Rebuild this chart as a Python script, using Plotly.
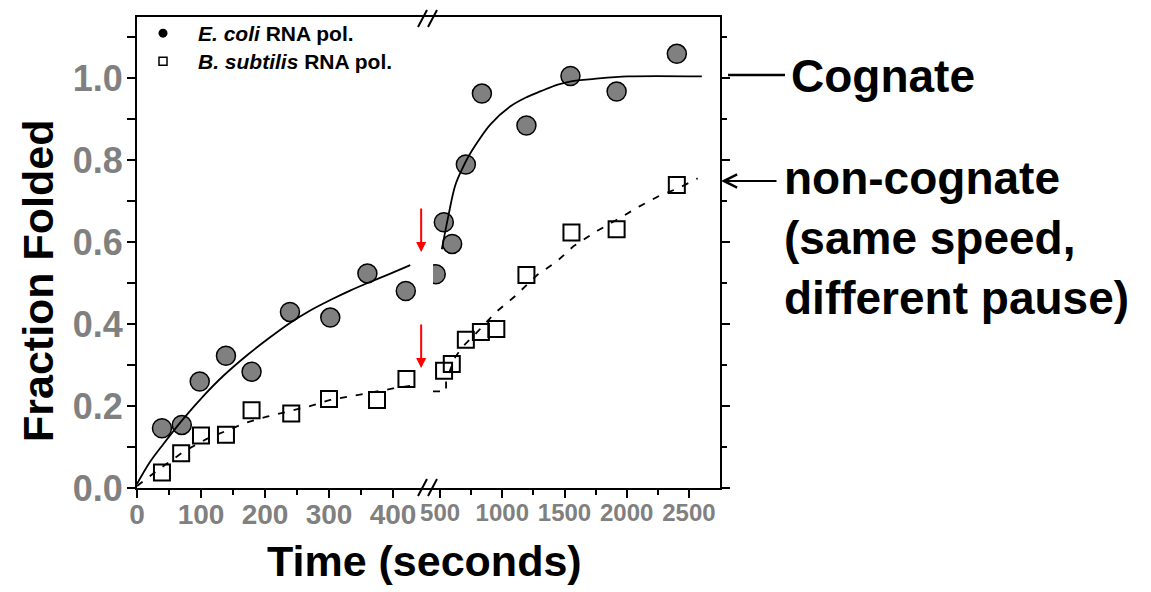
import plotly.graph_objects as go

# ---------------- data ----------------
# E. coli RNA polymerase (cognate) – filled circles
ecoli_t_left = [39, 70, 98, 139, 179, 239, 302, 360, 420]
ecoli_f_left = [0.146, 0.154, 0.260, 0.323, 0.284, 0.430, 0.416, 0.524, 0.481]
ecoli_t_right = [465, 530, 597, 707, 836, 1194, 1548, 1919, 2403]
ecoli_f_right = [0.522, 0.649, 0.596, 0.790, 0.963, 0.885, 1.006, 0.968, 1.060]

# B. subtilis RNA polymerase (non-cognate) – open squares
bsub_t_left = [39, 69, 100, 139, 179, 241, 300, 375, 421]
bsub_f_left = [0.038, 0.085, 0.128, 0.130, 0.190, 0.182, 0.217, 0.215, 0.266]
bsub_t_right = [532, 594, 707, 828, 952, 1194, 1556, 1919, 2403]
bsub_f_right = [0.286, 0.303, 0.362, 0.381, 0.388, 0.520, 0.624, 0.632, 0.740]

# fitted curves
cog_fit_t_left = [0, 20, 41, 72, 104, 135, 171, 208, 239, 270, 302, 333, 364, 395, 427]
cog_fit_f_left = [0.010, 0.063, 0.107, 0.168, 0.225, 0.274, 0.323, 0.368, 0.403, 0.433,
                  0.459, 0.482, 0.503, 0.523, 0.544]
cog_fit_t_right = [514, 567, 621, 676, 729, 797, 905, 1066, 1201, 1311, 1446, 1552, 1740, 2010, 2604]
cog_fit_f_right = [0.583, 0.665, 0.738, 0.778, 0.810, 0.843, 0.888, 0.932, 0.955, 0.969,
                   0.985, 0.993, 0.999, 1.005, 1.005]

non_fit_t_left = [0, 38, 75, 109, 140, 171, 203, 242, 270, 302, 335, 400, 429]
non_fit_f_left = [0.005, 0.050, 0.091, 0.120, 0.140, 0.160, 0.174, 0.189, 0.200, 0.215,
                  0.225, 0.243, 0.250]
non_fit_t_right = [443, 548, 548, 621, 675, 809, 943, 1105, 1280, 1441, 1575, 1764, 1938,
                   2099, 2260, 2422, 2570]
non_fit_f_right = [0.236, 0.236, 0.262, 0.319, 0.343, 0.384, 0.428, 0.469, 0.520, 0.554,
                   0.591, 0.628, 0.658, 0.687, 0.713, 0.733, 0.756]

# axis ticks
x_left_ticks = [0, 100, 200, 300, 400]
x_left_minor = [50, 150, 250, 350]
x_right_ticks = [500, 1000, 1500, 2000, 2500]
x_right_minor = [750, 1250, 1750, 2250]
y_ticks = [0.0, 0.2, 0.4, 0.6, 0.8, 1.0]
y_minor = [0.1, 0.3, 0.5, 0.7, 0.9, 1.1]

# arrows marking the pause
arrow_t = 444
arrow_tips = [0.576, 0.293]

legend_names = ["<i>E. coli</i> RNA pol.", "<i>B. subtilis</i> RNA pol."]

# ---------------- figure ----------------
FONT = "Liberation Sans, Arial, sans-serif"
OFF = 8  # default body margin of the html page
IMG_W, IMG_H = 1151, 592
PL, PR, PT, PB = 137, 720, 17, 488  # plot area in image pixels
W, H = IMG_W - OFF, IMG_H - OFF
L, R, T, B = PL - OFF, IMG_W - PR, PT - OFF, IMG_H - PB
PW, PH = PR - PL, PB - PT
BRK = 433  # pixel position of the axis break


def px(xp):
    return (xp - PL) / PW


def py(yp):
    return (PB - yp) / PH


D = px(BRK)

fig = go.Figure()

circle_marker = dict(symbol="circle", size=19, color="#808080",
                     line=dict(color="black", width=1.5))
square_marker = dict(symbol="square-open", size=16, color="black",
                     line=dict(color="black", width=2))

fig.add_trace(go.Scatter(x=ecoli_t_left, y=ecoli_f_left, mode="markers",
                         marker=circle_marker, xaxis="x", yaxis="y", showlegend=False))
fig.add_trace(go.Scatter(x=ecoli_t_right, y=ecoli_f_right, mode="markers",
                         marker=circle_marker, xaxis="x2", yaxis="y2", showlegend=False))
fig.add_trace(go.Scatter(x=bsub_t_left, y=bsub_f_left, mode="markers",
                         marker=square_marker, xaxis="x", yaxis="y", showlegend=False))
fig.add_trace(go.Scatter(x=bsub_t_right, y=bsub_f_right, mode="markers",
                         marker=square_marker, xaxis="x2", yaxis="y2", showlegend=False))

solid = dict(color="black", width=1.8)
dashed = dict(color="black", width=1.8, dash="7px,9px")
fig.add_trace(go.Scatter(x=cog_fit_t_left, y=cog_fit_f_left, mode="lines", line=solid,
                         line_shape="spline", xaxis="x", yaxis="y", showlegend=False))
fig.add_trace(go.Scatter(x=cog_fit_t_right, y=cog_fit_f_right, mode="lines", line=solid,
                         line_shape="spline", xaxis="x2", yaxis="y2", showlegend=False))
fig.add_trace(go.Scatter(x=non_fit_t_left, y=non_fit_f_left, mode="lines", line=dashed,
                         xaxis="x", yaxis="y", showlegend=False))
fig.add_trace(go.Scatter(x=non_fit_t_right, y=non_fit_f_right, mode="lines", line=dashed,
                         xaxis="x2", yaxis="y2", showlegend=False))

# legend-only traces (one legend each so the rows can be placed exactly)
fig.add_trace(go.Scatter(x=[None], y=[None], mode="markers", name=legend_names[0],
                         marker=dict(symbol="circle", size=9, color="black"),
                         xaxis="x", yaxis="y", legend="legend"))
fig.add_trace(go.Scatter(x=[None], y=[None], mode="markers", name=legend_names[1],
                         marker=dict(symbol="square", size=8, color="white",
                                     line=dict(color="black", width=1.5)),
                         xaxis="x", yaxis="y", legend="legend2"))

xl_font = dict(family=FONT, size=28, color="#808080", weight="bold")
xr_font = dict(family=FONT, size=24, color="#808080", weight="bold")
y_font = dict(family=FONT, size=36, color="#808080", weight="bold")
common_x = dict(showline=True, linecolor="black", linewidth=2, mirror=True,
                ticks="outside", ticklen=8, tickwidth=2, tickcolor="black",
                showgrid=False, zeroline=False, anchor="y", tickangle=0)
legend_font = dict(family=FONT, size=21, color="black", weight="bold")

fig.update_layout(
    width=W, height=H,
    margin=dict(l=L, r=R, t=T, b=B, pad=0, autoexpand=False),
    paper_bgcolor="white", plot_bgcolor="white",
    font=dict(family=FONT, color="black"),
    xaxis=dict(domain=[0, D], range=[0, (BRK - PL) / 0.64], tickmode="array",
               tickvals=x_left_ticks, ticktext=[str(v) for v in x_left_ticks],
               minor=dict(tickmode="array", tickvals=x_left_minor, ticks="outside",
                          ticklen=5, tickwidth=2, tickcolor="black"),
               tickfont=xl_font, ticklabelstandoff=-8, **common_x),
    xaxis2=dict(domain=[D, 1], range=[443, 2750], tickmode="array",
                tickvals=x_right_ticks, ticktext=[str(v) for v in x_right_ticks],
                minor=dict(tickmode="array", tickvals=x_right_minor, ticks="outside",
                           ticklen=5, tickwidth=2, tickcolor="black"),
                tickfont=xr_font, ticklabelstandoff=-6, **common_x),
    yaxis=dict(domain=[0, 1], range=[0, 1.15], anchor="x", tickmode="array",
               tickvals=y_ticks, ticktext=[f"{v:.1f}" for v in y_ticks],
               minor=dict(tickmode="array", tickvals=y_minor, ticks="outside",
                          ticklen=8, tickwidth=2, tickcolor="black"),
               showline=True, linecolor="black", linewidth=2, mirror=False,
               ticks="outside", ticklen=8, tickwidth=2, tickcolor="black",
               showgrid=False, zeroline=False, tickfont=y_font, ticklabelstandoff=-3),
    yaxis2=dict(domain=[0, 1], range=[0, 1.15], anchor="x2", side="right",
                matches="y", showticklabels=False, tickmode="array", tickvals=y_ticks,
                minor=dict(tickmode="array", tickvals=y_minor, ticks="outside",
                           ticklen=5, tickwidth=2, tickcolor="black"),
                showline=True, linecolor="black", linewidth=2,
                ticks="outside", ticklen=8, tickwidth=2, tickcolor="black",
                showgrid=False, zeroline=False),
    legend=dict(x=px(128), y=py(13), xanchor="left", yanchor="top",
                bgcolor="rgba(0,0,0,0)", borderwidth=0, itemwidth=60, font=legend_font),
    legend2=dict(x=px(128), y=py(41), xanchor="left", yanchor="top",
                 bgcolor="rgba(0,0,0,0)", borderwidth=0, itemwidth=60, font=legend_font),
)

# break marks
shapes = []
for yb, yt in [(496, 479), (27, 10)]:
    for x0 in (418, 428):
        shapes.append(dict(type="line", xref="paper", yref="paper",
                           x0=px(x0), y0=py(yb), x1=px(x0 + 9), y1=py(yt),
                           line=dict(color="black", width=2)))
# "Cognate" leader line
shapes.append(dict(type="line", xref="paper", yref="paper",
                   x0=px(728), y0=py(75), x1=px(785), y1=py(75),
                   line=dict(color="black", width=2.5)))
fig.update_layout(shapes=shapes)

ann = []
for tip in arrow_tips:
    ann.append(dict(x=arrow_t, y=tip, xref="x", yref="y", ax=0, ay=-45,
                    showarrow=True, arrowhead=2, arrowsize=1, arrowwidth=2,
                    arrowcolor="red", text=""))
# non-cognate arrow
ann.append(dict(x=px(721), y=py(181), xref="paper", yref="paper", ax=57, ay=0,
                showarrow=True, arrowhead=5, arrowsize=1.3, arrowwidth=2,
                arrowcolor="black", text=""))
big_font = dict(family=FONT, size=46, color="black", weight="bold")
ann.append(dict(x=px(789), y=py(76), xref="paper", yref="paper", xanchor="left",
                yanchor="middle", showarrow=False, text="Cognate", font=big_font))
ann.append(dict(x=px(782), y=py(238), xref="paper", yref="paper", xanchor="left",
                yanchor="middle", align="left", showarrow=False,
                text="non-cognate<br>(same speed,<br>different pause)", font=big_font))
# axis titles
title_font = dict(family=FONT, size=43, color="black", weight="bold")
ann.append(dict(x=px(424), y=py(561), xref="paper", yref="paper", xanchor="center",
                yanchor="middle", showarrow=False, text="Time (seconds)", font=title_font))
ann.append(dict(x=px(38), y=py(281), xref="paper", yref="paper", xanchor="center",
                yanchor="middle", showarrow=False, text="Fraction Folded", textangle=-90,
                font=title_font))
fig.update_layout(annotations=ann)

fig.write_html("out.html")
